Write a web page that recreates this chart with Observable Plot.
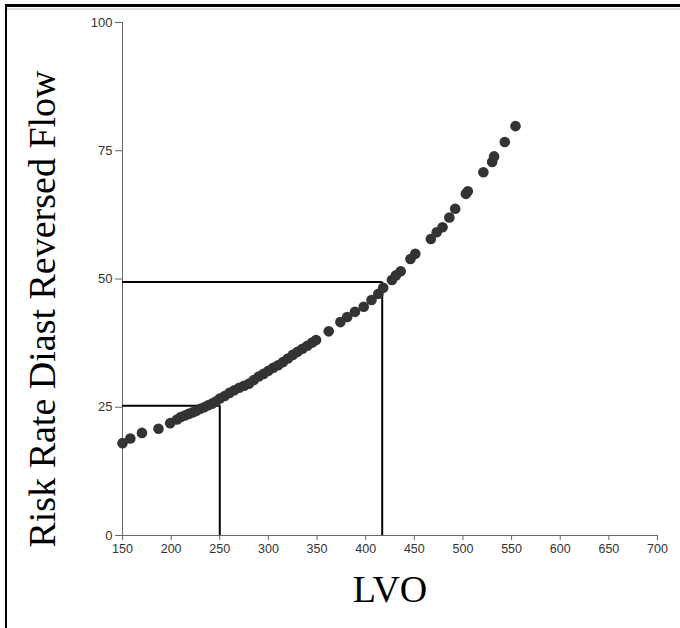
<!DOCTYPE html>
<html>
<head>
<meta charset="utf-8">
<script src="https://cdn.jsdelivr.net/npm/d3@7"></script>
<script src="https://cdn.jsdelivr.net/npm/@observablehq/plot@0.6"></script>
<style>
  html, body { margin: 0; padding: 0; background: #fff; }
  #wrap { position: relative; width: 680px; height: 628px; overflow: hidden; }
  #frame { position: absolute; left: 5px; top: 4px; width: 680px; height: 640px;
           border-top: 3px solid #000; border-left: 2px solid #000; pointer-events: none; }
  #frame2 { position: absolute; left: 7px; top: 8px; width: 680px; height: 0;
           border-top: 2px solid #ddd; pointer-events: none; }
</style>
</head>
<body>
<div id="wrap"><div id="chart"></div><div id="frame"></div><div id="frame2"></div></div>
<script>
const lvo = [150, 158, 170, 187, 199, 206, 210, 214, 218, 222, 226, 230, 234, 238, 242, 246, 250, 255, 260, 265, 270, 275, 280, 285, 290, 295, 300, 305, 310, 315, 320, 325, 330, 335, 340, 345, 349, 362, 374, 381, 389, 398, 406, 413, 418, 427, 431, 436, 446, 451, 467, 473, 479, 486, 492, 503, 505, 521, 530, 532, 543, 554];
const risk = [18.0, 18.9, 20.0, 20.8, 21.9, 22.6, 23.1, 23.4, 23.7, 24.0, 24.3, 24.7, 25.0, 25.4, 25.7, 26.1, 26.7, 27.2, 27.8, 28.3, 28.8, 29.2, 29.6, 30.3, 31.0, 31.5, 32.1, 32.7, 33.2, 33.8, 34.5, 35.2, 35.8, 36.4, 37.0, 37.6, 38.1, 39.8, 41.6, 42.6, 43.6, 44.6, 45.9, 47.1, 48.3, 49.8, 50.7, 51.5, 53.9, 54.9, 57.8, 59.1, 60.1, 62.0, 63.7, 66.6, 67.1, 70.8, 72.8, 73.9, 76.7, 79.8];
const refLvo = [250, 417];
const refRisk = [25.3, 49.4];
const xTicks = [150, 200, 250, 300, 350, 400, 450, 500, 550, 600, 650, 700];
const yTicks = [0, 25, 50, 75, 100];
const xLabel = "LVO";
const yLabel = "Risk Rate Diast Reversed Flow";

const points = lvo.map((x, i) => ({x, y: risk[i]}));
const refs = refLvo.map((x, i) => ({x, y: refRisk[i]}));

const chart = Plot.plot({
  width: 680,
  height: 628,
  marginLeft: 122,
  marginRight: 23,
  marginTop: 22,
  marginBottom: 93,
  style: {background: "transparent", overflow: "visible"},
  x: {domain: [150, 700]},
  y: {domain: [0, 100]},
  marks: [
    Plot.ruleX([150], {stroke: "#666", strokeWidth: 1}),
    Plot.ruleY([0], {stroke: "#666", strokeWidth: 1}),
    Plot.axisX({ticks: xTicks, tickSize: 5, tickPadding: 4, fontSize: 12.5, fontFamily: "Liberation Sans, Arial, sans-serif", color: "#333", stroke: "#666", label: null}),
    Plot.axisY({ticks: yTicks, tickSize: 7, tickPadding: 3, fontSize: 13, fontFamily: "Liberation Sans, Arial, sans-serif", color: "#333", stroke: "#666", label: null}),
    Plot.ruleY(refs, {y: "y", x1: 150, x2: "x", stroke: "#000", strokeWidth: 2}),
    Plot.ruleX(refs, {x: "x", y1: 0, y2: "y", stroke: "#000", strokeWidth: 2}),
    Plot.dot(points, {x: "x", y: "y", r: 5.3, fill: "#333", stroke: "none"}),
    Plot.text([yLabel], {frameAnchor: "left", textAnchor: "middle", lineAnchor: "middle", dx: -80, dy: 30, rotate: -90, fontSize: 38, fontFamily: "Liberation Serif, Times New Roman, serif", fill: "#000"}),
    Plot.text([xLabel], {frameAnchor: "bottom", textAnchor: "middle", lineAnchor: "middle", dy: 54, fontSize: 38, fontFamily: "Liberation Serif, Times New Roman, serif", fill: "#000"})
  ]
});
document.getElementById("chart").appendChild(chart);
</script>
</body>
</html>
